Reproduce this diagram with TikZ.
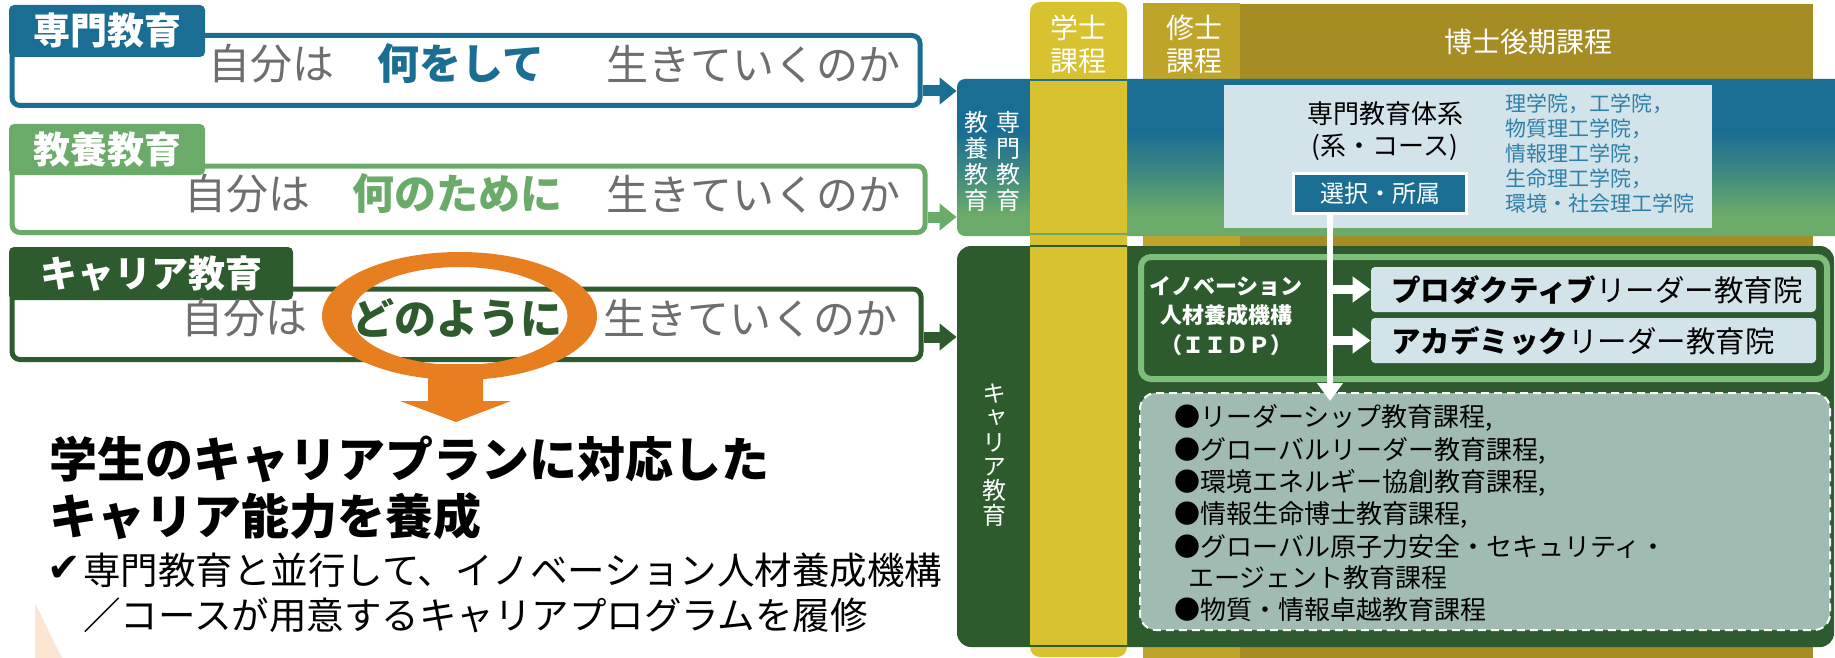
\documentclass[tikz,border=0pt]{standalone}
\usepackage{fontspec}
\setmainfont{Noto Sans CJK JP}
\newfontfamily\jpv[RawFeature=+vert]{Noto Sans CJK JP}
\newfontfamily\dejavu{DejaVu Sans}
\usetikzlibrary{arrows.meta}
\definecolor{cblue}{HTML}{1B6E93}
\definecolor{clg}{HTML}{6AAB6A}
\definecolor{cdg}{HTML}{2D5B2D}
\definecolor{corange}{HTML}{E77E1F}
\definecolor{cyellow}{HTML}{D8C230}
\definecolor{cochre}{HTML}{BFA42A}
\definecolor{colive}{HTML}{A58C23}
\definecolor{clight}{HTML}{D3E3EA}
\definecolor{clist}{HTML}{2F80A7}
\definecolor{cdash}{HTML}{A0BBB1}
\definecolor{ciidp}{HTML}{7DBE7B}
\definecolor{cgray}{HTML}{6E6E6E}
\definecolor{cpeach}{HTML}{FCE5D3}
\definecolor{cteal}{HTML}{3F8A80}
\pgfdeclareverticalshading{bandshade}{100bp}{color(0bp)=(clg); color(25bp)=(clg); color(32bp)=(clg); color(45bp)=(cteal); color(58bp)=(cblue); color(100bp)=(cblue)}
\begin{document}
\begin{tikzpicture}[x=0.5pt,y=-0.5pt,
  plain/.style={inner sep=0pt},
  tabbox/.style={rectangle, rounded corners=2.5pt, inner sep=0pt, text=white, font=\bfseries\fontsize{18.5pt}{20pt}\selectfont},
  rowbox/.style={rectangle, rounded corners=4pt, line width=2.5pt, fill=white, inner sep=0pt},
  rowtxt/.style={anchor=west, inner sep=0pt, text=cgray, font=\fontsize{21pt}{24pt}\selectfont},
  rowem/.style={anchor=west, inner sep=0pt, font=\bfseries\fontsize{21pt}{24pt}\selectfont},
  blockarrow/.style={line width=5.5pt, -{Triangle[width=13pt,length=8.5pt]}},
  hdr/.style={inner sep=0pt, align=center, text=white, font=\fontsize{14pt}{16.5pt}\selectfont},
  vtxt/.style={inner sep=0pt, align=center, text=white, font=\fontsize{12pt}{13pt}\selectfont},
  lbox/.style={fill=clight, rounded corners=2pt, minimum width=222.5pt, minimum height=22.5pt, inner sep=0pt},
  ltxt/.style={anchor=west, inner sep=0pt, font=\fontsize{14.75pt}{16pt}\selectfont},
  litem/.style={anchor=west, inner sep=0pt, font=\fontsize{13pt}{16pt}\selectfont},
  whitearrow/.style={white, line width=4.5pt, -{Triangle[width=12.5pt,length=9pt]}}
]
\useasboundingbox (0,0) rectangle (1835,658);
\begin{scope}
\clip (0,0) rectangle (1835,658);
% ---------- right side: columns and bands ----------
\node[fill=cochre, minimum width=48.5pt, minimum height=327.5pt, inner sep=0pt] (master) at (1191.5,330.5) {};
\node[fill=colive, minimum width=286.5pt, minimum height=327pt, inner sep=0pt] (doctor) at (1526.5,331) {};
\node[rounded corners=4pt, shading=bandshade, minimum width=446.5pt, minimum height=78.5pt, inner sep=0pt] (band1) at (1403.5,157.5) {};
\node[fill=cdg, rounded corners=7pt, minimum width=438.5pt, minimum height=200.5pt, inner sep=0pt] (band2) at (1395.5,446.5) {};
\node[fill=cyellow, rounded corners=5pt, minimum width=48.5pt, minimum height=327.5pt, inner sep=0pt] (bach) at (1078.5,329.5) {};
\draw[cblue, line width=0.75pt] (bach.west |- 0,80) -- (bach.east |- 0,80);
\draw[clg, line width=0.75pt] (bach.west |- 0,234) -- (bach.east |- 0,234);
\draw[cdg, line width=0.75pt] (bach.west |- 0,246) -- (bach.east |- 0,246);
\draw[cdg, line width=0.75pt] (bach.west |- 0,646) -- (bach.east |- 0,646);
% headers
\node[hdr] (bachT) at (1078,44) {学士\\課程};
\node[hdr] (mastT) at (1194,44) {修士\\課程};
\node[hdr] (docT) at (1528,42) {博士後期課程};
% band 1 contents
\node[vtxt] (vsen) at (1008,161) {専\\門\\教\\育};
\node[vtxt] (vkyo) at (976,161) {教\\養\\教\\育};
\node[fill=clight, minimum width=244pt, minimum height=71.5pt, inner sep=0pt] (sbox) at (1468,156.5) {};
\node[plain, align=center, font=\fontsize{13pt}{16pt}\selectfont] (stitle) at (1385,131) {専門教育体系\\(系・コース)};
\node[fill=cblue, draw=white, line width=1.5pt, minimum width=86.5pt, minimum height=20pt, text=white, font=\fontsize{12pt}{14pt}\selectfont, inner sep=0pt] (sel) at (1380,193.5) {選択・所属};
\node[plain, anchor=west, align=left, text=clist, font=\fontsize{10.5pt}{12.5pt}\selectfont] (schools) at (1505,153) {理学院，工学院，\\物質理工学院，\\情報理工学院，\\生命理工学院，\\環境・社会理工学院};
% band 2 contents
\node[vtxt, font=\jpv\fontsize{12pt}{12.2pt}\selectfont] (vcar) at (994,455) {キ\\ャ\\リ\\ア\\教\\育};
\node[draw=ciidp, line width=3pt, fill=cdg, rounded corners=5pt, minimum width=343pt, minimum height=61pt, inner sep=0pt] (iidp) at (1484,318) {};
\node[plain, align=center, text=white, font=\bfseries\fontsize{11pt}{14.75pt}\selectfont] (iidpT) at (1226,316) {イノベーション\\人材養成機構\\（ＩＩＤＰ）};
\node[lbox] (prod) at (1593.5,289.5) {};
\node[ltxt] (prodT) at (1391,290) {\textbf{プロダクティブ}リーダー教育院};
\node[lbox] (aca) at (1593.5,340.5) {};
\node[ltxt] (acaT) at (1391,341) {\textbf{アカデミック}リーダー教育院};
\node[fill=cdash, draw=white, dash pattern=on 4pt off 2.5pt, line width=1pt, rounded corners=8pt, minimum width=345pt, minimum height=118.5pt, inner sep=0pt] (dash) at (1485,511.5) {};
\node[litem] (li1) at (1174,418) {●リーダーシップ教育課程,};
\node[litem] (li2) at (1174,451) {●グローバルリーダー教育課程,};
\node[litem] (li3) at (1174,483) {●環境エネルギー協創教育課程,};
\node[litem] (li4) at (1174,515) {●情報生命博士教育課程,};
\node[litem] (li5) at (1174,547) {●グローバル原子力安全・セキュリティ・};
\node[litem] (li6) at (1188,578) {エージェント教育課程};
\node[litem] (li7) at (1174,610) {●物質・情報卓越教育課程};
% white connectors
\coordinate (vtop) at ([xshift=-25pt]sel.south);
\coordinate (vend) at ([yshift=-4.5pt]vtop |- dash.north);
\draw[white, line width=3pt, -{Triangle[width=12.5pt,length=9pt]}] (vtop) -- (vend);
\draw[whitearrow] (vtop |- prod.west) -- (prod.west);
\draw[whitearrow] (vtop |- aca.west) -- (aca.west);
% ---------- left side ----------
\node[rowbox, draw=cblue, minimum width=454pt, minimum height=35pt] (row1) at (466,70.5) {};
\node[rowbox, draw=clg, minimum width=456.5pt, minimum height=33.25pt] (row2) at (468.5,199.25) {};
\node[rowbox, draw=cdg, minimum width=454.5pt, minimum height=35.25pt] (row3) at (466.5,324.25) {};
\node[tabbox, fill=cblue, minimum width=98pt, minimum height=26pt] (tab1) at (107,31) {専門教育};
\node[tabbox, fill=clg, minimum width=98pt, minimum height=25.5pt] (tab2) at (107,149.5) {教養教育};
\node[tabbox, fill=cdg, minimum width=142pt, minimum height=26.5pt] (tab3) at (151,273.5) {キャリア教育};
\node[rowtxt] (r1a) at (208,64) {自分は};
\node[rowem, text=cblue] (r1b) at (377,64) {何をして};
\node[rowtxt] (r1c) at (606,64) {生きていくのか};
\node[rowtxt] (r2a) at (184,194) {自分は};
\node[rowem, text=clg] (r2b) at (352,194) {何のために};
\node[rowtxt] (r2c) at (606,194) {生きていくのか};
\node[rowtxt] (r3a) at (181,318) {自分は};
\node[rowem, text=cdg] (r3b) at (352,318) {どのように};
\node[rowtxt] (r3c) at (603,318) {生きていくのか};
\coordinate (a1) at (0,91);
\coordinate (a2) at (0,217);
\coordinate (a3) at (0,337);
\draw[blockarrow, cblue] (row1.east |- a1) -- (band1.west |- a1);
\draw[blockarrow, clg] (row2.east |- a2) -- (band1.west |- a2);
\draw[blockarrow, cdg] (row3.east |- a3) -- (band2.west |- a3);
% orange ring and arrow
\fill[corange, even odd rule] (459.5,316) ellipse [x radius=137.5, y radius=64] (459.5,316) ellipse [x radius=108, y radius=49];
\fill[corange] (428,364) -- (483,364) -- (483,401) -- (511,401) -- (456,422) -- (400,401) -- (428,401) -- cycle;
% conclusion text
\node[plain, anchor=west, font=\bfseries\fontsize{24pt}{28pt}\selectfont] (big1) at (49,459) {学生のキャリアプランに対応した};
\node[plain, anchor=west, font=\bfseries\fontsize{24pt}{28pt}\selectfont] (big2) at (49,516) {キャリア能力を養成};
\node[plain, anchor=west, font=\dejavu\fontsize{20pt}{22pt}\selectfont] (chk) at (47,569) {✔};
\node[plain, anchor=west, font=\fontsize{18.75pt}{22pt}\selectfont] (c1) at (83,570) {専門教育と並行して、イノベーション人材養成機構};
\node[plain, anchor=west, font=\fontsize{18.75pt}{22pt}\selectfont] (c2) at (83,615) {／コースが用意するキャリアプログラムを履修};
\fill[cpeach] (35,603) -- (35,658) -- (62,658) -- cycle;
\end{scope}
\end{tikzpicture}
\end{document}
